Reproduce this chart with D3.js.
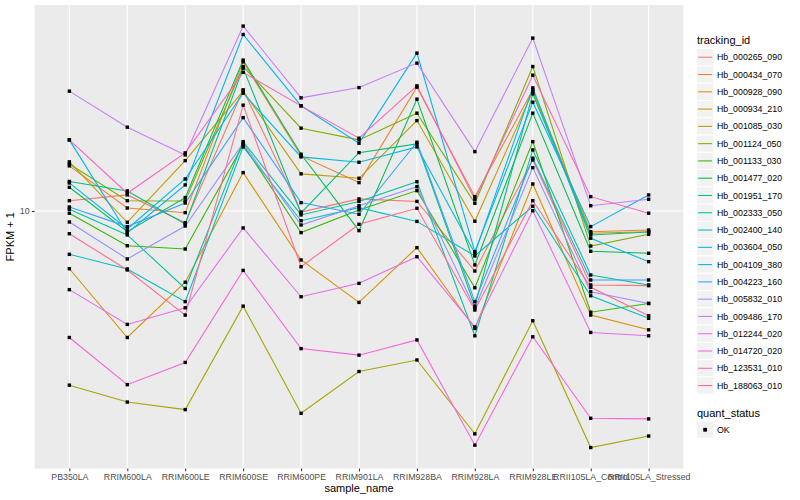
<!DOCTYPE html>
<html><head><meta charset="utf-8">
<script src="https://cdn.jsdelivr.net/npm/d3@7"></script>
<style>body{margin:0;background:#fff}svg{display:block;font-family:"Liberation Sans",Arial,Helvetica,sans-serif}</style>
</head><body><svg id="c" width="800" height="500"></svg>
<script>
const sampleNames = ["PB350LA","RRIM600LA","RRIM600LE","RRIM600SE","RRIM600PE","RRIM901LA","RRIM928BA","RRIM928LA","RRIM928LE","RRII105LA_Control","RRII105LA_Stressed"];
const trackingIds = ["Hb_000265_090","Hb_000434_070","Hb_000928_090","Hb_000934_210","Hb_001085_030","Hb_001124_050","Hb_001133_030","Hb_001477_020","Hb_001951_170","Hb_002333_050","Hb_002400_140","Hb_003604_050","Hb_004109_380","Hb_004223_160","Hb_005832_010","Hb_009486_170","Hb_012244_020","Hb_014720_020","Hb_123531_010","Hb_188063_010"];
// FPKM + 1 per sample, in sampleNames order
const Hb_000265_090 = [10.82,11.31,9.14,25.32,9.92,10.97,10.76,6.31,14.79,5.67,5.64];
const Hb_000434_070 = [14.13,10.23,9.87,31.38,15.25,12.43,25.84,11.16,25.32,8.53,8.64];
const Hb_000928_090 = [6.42,3.79,5.79,13.42,6.87,4.96,7.55,4.06,12.30,4.50,4.02];
const Hb_000934_210 = [14.57,9.17,14.71,25.06,13.29,12.85,20.00,9.24,24.99,8.43,8.53];
const Hb_001085_030 = [2.63,2.31,2.18,4.82,2.12,2.92,3.19,1.81,4.31,1.63,1.78];
const Hb_001124_050 = [14.34,10.82,10.80,30.27,18.87,17.25,21.17,10.61,30.27,7.64,8.36];
const Hb_001133_030 = [9.83,7.66,7.47,16.60,8.47,10.08,11.69,5.55,17.02,4.60,4.92];
const Hb_001477_020 = [11.99,8.53,11.08,31.80,15.45,8.60,23.57,6.61,21.17,7.34,7.23];
const Hb_001951_170 = [12.54,11.66,9.05,29.90,9.85,15.64,16.73,4.82,24.55,8.32,8.51];
const Hb_002333_050 = [10.13,8.32,5.52,17.02,9.70,10.76,12.52,3.84,15.97,6.12,5.67];
const Hb_002400_140 = [7.17,6.41,4.99,16.34,9.28,10.26,9.23,7.08,10.37,5.22,4.39];
const Hb_003604_050 = [12.40,8.71,12.78,24.68,15.14,14.53,16.34,7.23,25.70,8.11,6.78];
const Hb_004109_380 = [17.25,8.45,12.21,38.70,22.39,16.81,33.55,7.32,23.03,8.87,11.31];
const Hb_004223_160 = [10.31,8.87,10.63,20.46,10.66,9.75,16.94,4.99,14.99,5.89,5.89];
const Hb_005832_010 = [9.19,6.92,8.91,16.81,8.98,10.41,12.05,4.74,13.94,5.38,4.92];
const Hb_009486_170 = [25.06,19.01,15.37,41.28,23.81,25.76,31.07,15.76,37.64,10.41,10.94];
const Hb_012244_020 = [5.47,4.19,4.76,8.78,5.18,5.74,7.04,4.11,10.02,3.94,3.84];
const Hb_014720_020 = [3.79,2.64,3.13,6.34,3.48,3.31,3.72,1.66,3.81,2.04,2.03];
const Hb_123531_010 = [17.25,11.46,15.61,28.95,22.39,17.47,26.10,10.94,28.33,11.16,9.83];
const Hb_188063_010 = [8.40,6.36,4.50,22.51,6.52,9.03,10.21,4.68,10.82,5.57,4.48];
const seriesValues = [Hb_000265_090,Hb_000434_070,Hb_000928_090,Hb_000934_210,Hb_001085_030,Hb_001124_050,Hb_001133_030,Hb_001477_020,Hb_001951_170,Hb_002333_050,Hb_002400_140,Hb_003604_050,Hb_004109_380,Hb_004223_160,Hb_005832_010,Hb_009486_170,Hb_012244_020,Hb_014720_020,Hb_123531_010,Hb_188063_010];
const palette = ["#F8766D","#EA8331","#D89000","#C09B00","#A3A500","#7CAE00","#39B600","#00BB4E","#00BF7D","#00C1A3","#00BFC4","#00BAE0","#00B0F6","#35A2FF","#9590FF","#C77CFF","#E76BF3","#FA62DB","#FF62BC","#FF6C91"];
const yTicks = [10];
const quantStatus = ["OK"];

const svg = d3.select("#c");
const P = {l:34.6, r:683.4, t:5, b:468.6};

const x = d3.scalePoint().domain(sampleNames).range([P.l, P.r]).padding(0.6);
const all = seriesValues.flat();
const lmin = Math.log10(d3.min(all)), lmax = Math.log10(d3.max(all));
const pad = (lmax - lmin) * 0.05;
const y = d3.scaleLog().domain([Math.pow(10, lmin - pad), Math.pow(10, lmax + pad)]).range([P.b, P.t]);

svg.append("rect").attr("x",0).attr("y",0).attr("width",800).attr("height",500).attr("fill","#fff");
svg.append("rect").attr("x",P.l).attr("y",P.t).attr("width",P.r-P.l).attr("height",P.b-P.t).attr("fill","#EBEBEB");

const grid = svg.append("g").attr("stroke","#fff").attr("stroke-width",1.07);
grid.selectAll(".vx").data(sampleNames).enter().append("line")
  .attr("x1",d=>x(d)).attr("x2",d=>x(d)).attr("y1",P.t).attr("y2",P.b);
grid.selectAll(".hy").data(yTicks).enter().append("line")
  .attr("x1",P.l).attr("x2",P.r).attr("y1",d=>y(d)).attr("y2",d=>y(d));

const line = d3.line().x((d,i)=>x(sampleNames[i])).y(d=>y(d));
svg.append("g").selectAll("path").data(seriesValues).enter().append("path")
  .attr("d", d=>line(d)).attr("fill","none")
  .attr("stroke",(d,i)=>palette[i]).attr("stroke-width",1.07);

const pts = [];
seriesValues.forEach(s => s.forEach((v,i) => pts.push({s:sampleNames[i], v})));
svg.append("g").selectAll("rect").data(pts).enter().append("rect")
  .attr("x",d=>x(d.s)-1.7).attr("y",d=>y(d.v)-1.7).attr("width",3.4).attr("height",3.4).attr("fill","#000");

// axes
const xAxis = svg.append("g").attr("transform",`translate(0,${P.b})`)
  .call(d3.axisBottom(x).tickSize(2.75).tickPadding(2.2));
const yAxis = svg.append("g").attr("transform",`translate(${P.l},0)`)
  .call(d3.axisLeft(y).tickValues(yTicks).tickFormat(d3.format("d")).tickSize(2.75).tickPadding(2.2));
[xAxis,yAxis].forEach(a=>{
  a.select(".domain").remove();
  a.selectAll(".tick line").attr("stroke","#333333").attr("stroke-width",1.07);
  a.selectAll(".tick text").attr("fill","#4D4D4D").style("font-size","8.8px").style("font-family","'Liberation Sans',Arial,sans-serif");
});

svg.append("text").attr("x",(P.l+P.r)/2).attr("y",492).attr("text-anchor","middle")
  .style("font-size","11px").attr("fill","#000").text("sample_name");
svg.append("text").attr("transform",`translate(13.5,${(P.t+P.b)/2}) rotate(-90)`).attr("text-anchor","middle")
  .style("font-size","11px").attr("fill","#000").text("FPKM + 1");

// legend
const L = {x:696.5, key:17.28, top:48.6};
const lg = svg.append("g");
lg.append("text").attr("x",697).attr("y",44.2).style("font-size","11px").attr("fill","#000").text("tracking_id");
const items = lg.selectAll(".it").data(trackingIds).enter().append("g")
  .attr("transform",(d,i)=>`translate(${L.x},${L.top + i*L.key})`);
items.append("rect").attr("width",L.key).attr("height",L.key).attr("fill","#F2F2F2").attr("stroke","#fff").attr("stroke-width",1);
items.append("line").attr("x1",1.7).attr("x2",L.key-1.7).attr("y1",L.key/2).attr("y2",L.key/2)
  .attr("stroke",(d,i)=>palette[i]).attr("stroke-width",1.07);
items.append("text").attr("x",L.key+3.2).attr("y",L.key/2+3.1).style("font-size","8.8px").attr("fill","#000").text(d=>d);

const q0 = L.top + trackingIds.length*L.key + 22.5;
lg.append("text").attr("x",697).attr("y",q0).style("font-size","11px").attr("fill","#000").text("quant_status");
const qi = lg.selectAll(".q").data(quantStatus).enter().append("g")
  .attr("transform",(d,i)=>`translate(${L.x},${q0+4.4+i*L.key})`);
qi.append("rect").attr("width",L.key).attr("height",L.key).attr("fill","#F2F2F2").attr("stroke","#fff").attr("stroke-width",1);
qi.append("rect").attr("x",L.key/2-1.9).attr("y",L.key/2-1.9).attr("width",3.8).attr("height",3.8).attr("fill","#000");
qi.append("text").attr("x",L.key+3.2).attr("y",L.key/2+3.1).style("font-size","8.8px").attr("fill","#000").text(d=>d);
</script></body></html>
